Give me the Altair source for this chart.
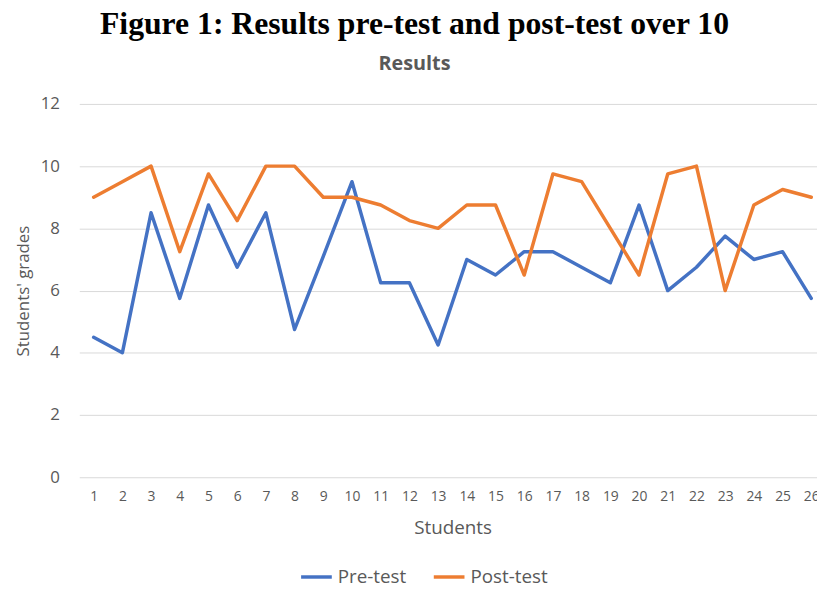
import altair as alt
import pandas as pd

students = list(range(1, 27))
pre_test = [4.5, 4, 8.5, 5.75, 8.75, 6.75, 8.5, 4.75, 7.1, 9.5, 6.25, 6.25, 4.25,
            7, 6.5, 7.25, 7.25, 6.75, 6.25, 8.75, 6, 6.75, 7.75, 7, 7.25, 5.75]
post_test = [9, 9.5, 10, 7.25, 9.75, 8.25, 10, 10, 9, 9, 8.75, 8.25, 8,
             8.75, 8.75, 6.5, 9.75, 9.5, 8, 6.5, 9.75, 10, 6, 8.75, 9.25, 9]
series_names = ["Pre-test", "Post-test"]
series_colors = ["#4472C4", "#ED7D31"]
y_ticks = [0, 2, 4, 6, 8, 10, 12]

rows = []
for name, vals in zip(series_names, [pre_test, post_test]):
    for s, v in zip(students, vals):
        rows.append({"Student": s, "Grade": v, "Series": name})
df = pd.DataFrame(rows)

FONT = "Open Sans"
GRAY = "#595959"

chart = alt.Chart(df).mark_line(strokeWidth=3.5, strokeJoin="round", strokeCap="round").encode(
    x=alt.X("Student:Q",
            scale=alt.Scale(domain=[0.5, 26.2], nice=False, zero=False),
            axis=alt.Axis(values=students, format="d", title="Students", grid=False,
                          ticks=False, domain=False, labelOverlap=False, labelBound=False,
                          labelFontSize=14, labelPadding=13, titleFontSize=19,
                          titlePadding=15, titleFontWeight="normal", titleX=377)),
    y=alt.Y("Grade:Q",
            scale=alt.Scale(domain=[0, 12], nice=False),
            axis=alt.Axis(values=y_ticks, title="Students' grades", grid=True,
                          ticks=False, domain=False, labelFontSize=17, labelPadding=20,
                          titleFontSize=17, titlePadding=8, titleFontWeight="normal")),
    color=alt.Color("Series:N",
                    scale=alt.Scale(domain=series_names, range=series_colors),
                    sort=series_names,
                    legend=alt.Legend(title=None, orient="none", legendX=222, legendY=460,
                                      direction="horizontal", symbolType="stroke",
                                      symbolSize=961, symbolStrokeWidth=3.5,
                                      labelFontSize=19, labelColor=GRAY, labelFont=FONT,
                                      columnPadding=20, labelOffset=4)),
).properties(
    width=745,
    height=377,
    title=alt.TitleParams(
        text="Figure 1: Results pre-test and post-test over 10",
        subtitle="Results",
        anchor="middle", frame="group", dx=-34, offset=20,
        font="Liberation Serif", fontSize=32, fontWeight="bold", color="black",
        subtitleFont=FONT, subtitleFontSize=20, subtitleFontWeight="bold",
        subtitleColor=GRAY, subtitlePadding=14,
    ),
    autosize=alt.AutoSizeParams(type="none"),
    padding={"left": 72, "top": 94, "right": 0, "bottom": 110},
).configure_view(stroke=None).configure_axis(
    labelFont=FONT, titleFont=FONT, labelColor=GRAY, titleColor=GRAY,
    gridColor="#D9D9D9", gridWidth=1,
)

chart.save("out.html", embed_options={"renderer": "svg", "actions": False})
